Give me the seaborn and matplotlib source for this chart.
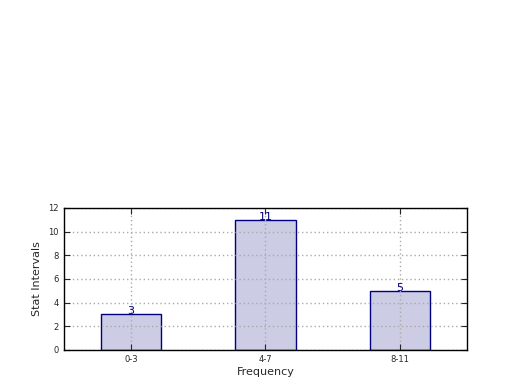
import matplotlib
matplotlib.use("Agg")
import matplotlib.pyplot as plt
import seaborn as sns
from matplotlib.colors import to_rgba

sns.set_theme(style="white")
plt.rcParams['font.family'] = ['DejaVu Sans']

# data
categories = ["0-3", "4-7", "8-11"]
counts = [3, 11, 5]

fig = plt.figure(figsize=(5.2, 3.9), dpi=100)
ax = fig.add_axes([0.123, 0.103, 0.775, 0.364])

sns.barplot(
    x=categories,
    y=counts,
    ax=ax,
    color=to_rgba("navy", 0.2),
    saturation=1,
    edgecolor="navy",
    linewidth=1,
    width=0.45,
)

for i, v in enumerate(counts):
    ax.text(i, v, str(v), ha="center", va="baseline", color="navy", fontsize=8)

ax.set_xlim(-0.5, 2.5)
ax.set_ylim(0, 12)
ax.set_yticks(range(0, 13, 2))
ax.set_xlabel("Frequency", fontsize=8, labelpad=2)
ax.set_ylabel("Stat Intervals", fontsize=8, labelpad=4)

# grid above the bars but under the frame
ax.set_axisbelow("line")
ax.grid(True, linestyle=(0, (1, 2)), color="#aaaaaa", linewidth=1)
ax.tick_params(direction="in", length=4, width=0.8, labelsize=6,
               top=True, right=True, bottom=True, left=True, pad=4)
for s in ax.spines.values():
    s.set_color("black")
    s.set_linewidth(1)
    s.set_zorder(3)

fig.savefig("out.png", dpi=100, facecolor="white")
